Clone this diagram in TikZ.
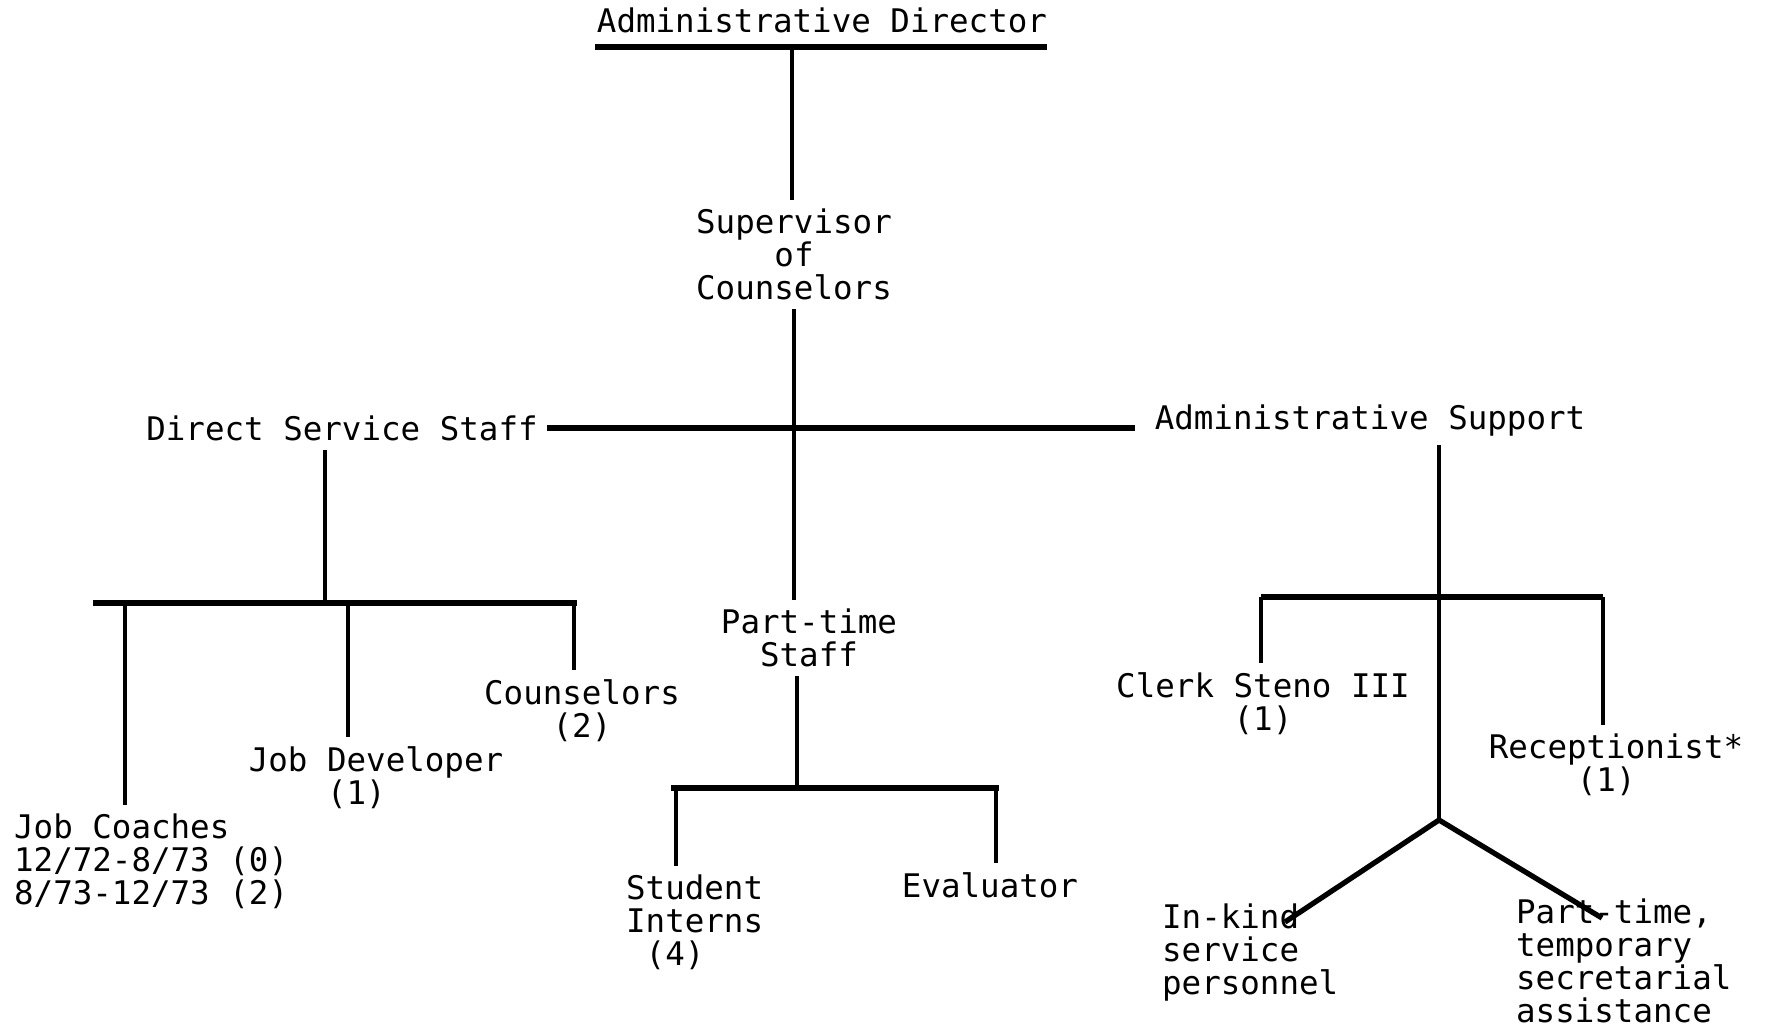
\documentclass[tikz,border=0pt]{standalone}
\usepackage{fontspec}
\newfontfamily\typewr{DejaVu Sans Mono}
\usetikzlibrary{positioning,calc}
\tikzset{
    lbl/.style  = {font={\typewr\fontsize{18.5}{18.8}\selectfont}, inner sep=5pt},
    junc/.style = {coordinate},
    link/.style = {draw, line width=2.4pt},
    bar/.style  = {draw, line width=3.6pt},
    fork/.style = {draw, line width=3pt}
}

\begin{document}
\begin{tikzpicture}[x=0.02cm, y=-0.02cm]
    \useasboundingbox (0,0) rectangle (1766,1029);
    % positions
    \node [lbl, anchor=base]                  (admdir)    at (822,32)   {Administrative Director};
    \node [lbl, anchor=north, align=center]   (supcouns)  at (794,200)  {Supervisor\\of\\Counselors};
    \node [lbl, anchor=base]                  (dss)       at (342,440)  {Direct Service Staff};
    \node [lbl, anchor=base]                  (admsup)    at (1370,429) {Administrative Support};
    \node [lbl, anchor=north west, align=left] (jobcoach) at (5,805)    {Job Coaches\\12/72-8/73 (0)\\8/73-12/73 (2)};
    \node [lbl, anchor=north, align=center]   (jobdev)    at (376,737)  {Job Developer\\(1)\phantom{xx}};
    \node [lbl, anchor=north, align=center]   (couns)     at (582,670)  {Counselors\\(2)};
    \node [lbl, anchor=north, align=center]   (parttime)  at (809,600)  {Part-time\\Staff};
    \node [lbl, anchor=north west, align=left] (student)  at (617,866)  {Student\\Interns\\\phantom{x}(4)};
    \node [lbl, anchor=base]                  (evaluator) at (990,897)  {Evaluator};
    \node [lbl, anchor=north, align=center]   (clerk)     at (1263,663) {Clerk Steno III\\(1)};
    \node [lbl, anchor=north, align=center]   (recept)    at (1616,725) {Receptionist*\\(1)\phantom{x}};
    \node [lbl, anchor=north west, align=left] (inkind)   at (1153,895) {In-kind\\service\\personnel};
    \node [lbl, anchor=north west, align=left] (ptsec)    at (1507,890) {Part-time,\\temporary\\secretarial\\assistance};

    \node [junc] (adL)   at (595,47)   {};
    \node [junc] (adR)   at (1047,47)  {};
    \node [junc] (adJ)   at (792,47)   {};
    \node [junc] (lbL)   at (93,603)   {};
    \node [junc] (lbR)   at (577,603)  {};
    \node [junc] (dssJ)  at (325,603)  {};
    \node [junc] (jcJ)   at (125,603)  {};
    \node [junc] (jdJ)   at (348,603)  {};
    \node [junc] (coJ)   at (574,603)  {};
    \node [junc] (ptJ)   at (797,788)  {};
    \node [junc] (pbL)   at (671,788)  {};
    \node [junc] (pbR)   at (999,788)  {};
    \node [junc] (stJ)   at (676,788)  {};
    \node [junc] (evJ)   at (996,788)  {};
    \node [junc] (rbL)   at (1261,597) {};
    \node [junc] (rbR)   at (1603,597) {};
    \node [junc] (forkJ) at (1439,820) {};
    \node [junc] (ikEnd) at (1285,922) {};
    \node [junc] (psEnd) at (1602,918) {};

    % top
    \draw [bar]  (adL) -- (adR);
    \draw [link] (adJ) -- (adJ |- supcouns.north);
    \draw [link] (supcouns.south) -- (supcouns.south |- parttime.north);
    \draw [bar, shorten >=6pt] (dss.east) -- (dss.east -| admsup.west);
    % direct service
    \draw [link] (dssJ |- dss.south) -- (dssJ);
    \draw [bar]  (lbL) -- (lbR);
    \draw [link] (jcJ) -- (jcJ |- jobcoach.north);
    \draw [link] (jdJ) -- (jdJ |- jobdev.north);
    \draw [link] (coJ) -- (coJ |- couns.north);
    % part-time
    \draw [link] (ptJ |- parttime.south) -- (ptJ);
    \draw [bar]  (pbL) -- (pbR);
    \draw [link] (stJ) -- (stJ |- student.north);
    \draw [link] (evJ) -- (evJ |- evaluator.north);
    % admin support
    \draw [link] (forkJ |- admsup.south) -- (forkJ);
    \draw [bar]  (rbL) -- (rbR);
    \draw [link] (rbL) -- (rbL |- clerk.north);
    \draw [link] (rbR) -- (rbR |- recept.north);
    \draw [fork] (ikEnd) -- (forkJ) -- (psEnd);
\end{tikzpicture}
\end{document}
